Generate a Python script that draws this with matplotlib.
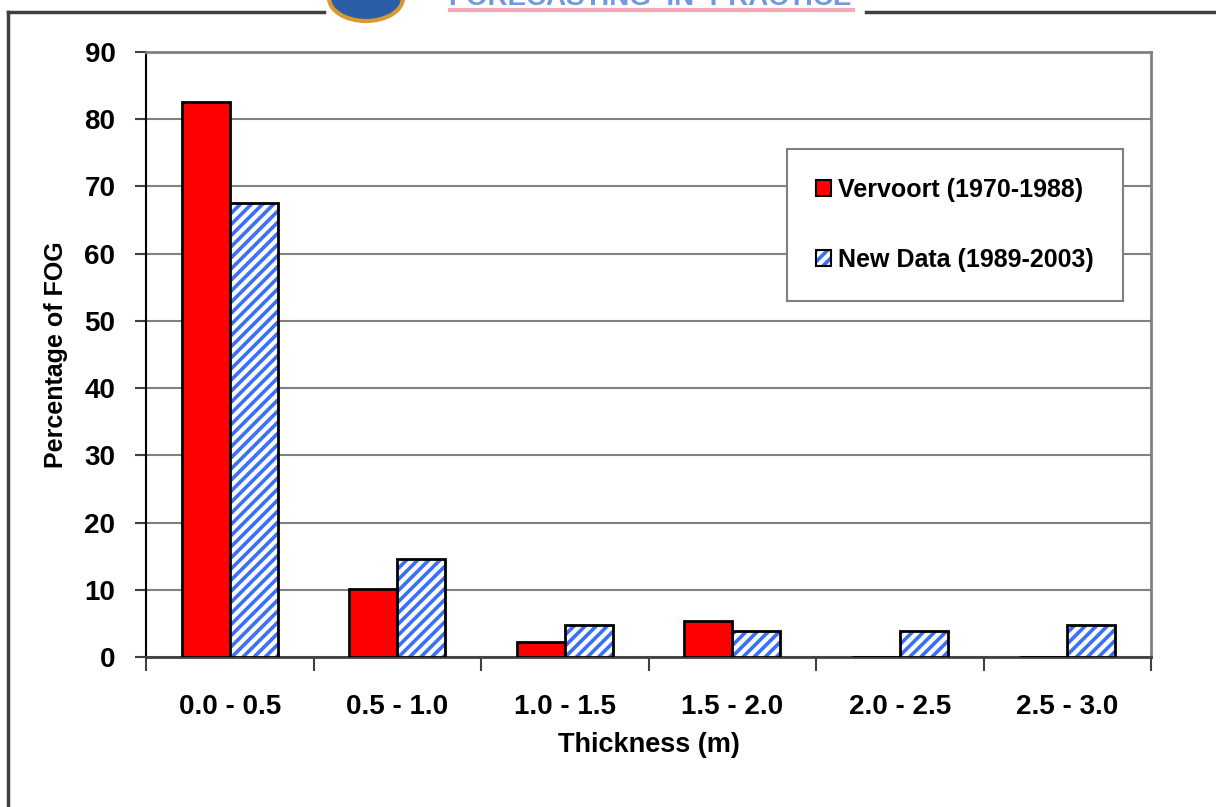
import numpy as np
import matplotlib
matplotlib.use("Agg")
import matplotlib.pyplot as plt
from matplotlib.patches import Patch, Ellipse
from matplotlib.lines import Line2D

# Thickness classes and percentage of FOG for each data set
categories = ["0.0 - 0.5", "0.5 - 1.0", "1.0 - 1.5", "1.5 - 2.0", "2.0 - 2.5", "2.5 - 3.0"]
vervoort = [82.5, 10.1, 2.2, 5.4, 0.0, 0.0]
new_data = [67.6, 14.6, 4.8, 3.9, 3.9, 4.8]
yticks = [0, 10, 20, 30, 40, 50, 60, 70, 80, 90]

plt.rcParams['font.family'] = ['Liberation Sans', 'DejaVu Sans']
plt.rcParams['font.weight'] = 'bold'
plt.rcParams['hatch.linewidth'] = 2.6

fig = plt.figure(figsize=(12.16, 8.07), dpi=100)
ax = fig.add_axes([146 / 1216, 150 / 807, 1005 / 1216, 605 / 807])

x = np.arange(len(categories))
width = 0.287

# red bars
ax.bar(x - width / 2, vervoort, width, color='#ff0000', edgecolor='black',
       linewidth=2, zorder=3)
# hatched bars: blue stripes first, then black outline on top
ax.bar(x + width / 2, new_data, width, color='white', edgecolor='#3a6ff7',
       hatch='///', linewidth=0, zorder=3)
ax.bar(x + width / 2, new_data, width, fill=False, edgecolor='black',
       linewidth=2, zorder=4)

ax.set_xlim(-0.5, len(categories) - 0.5)
ax.set_ylim(0, 90)
ax.set_yticks(yticks)
ax.set_xticks(x)
ax.set_xticklabels(categories)
ax.set_xticks(np.arange(len(categories) + 1) - 0.5, minor=True)
ax.tick_params(axis='x', which='major', length=0, pad=27, labelsize=20)
ax.tick_params(axis='x', which='minor', length=10, width=1.5, color='#404040')
ax.tick_params(axis='y', length=8, width=1.5, color='#404040', pad=14, labelsize=20)

ax.yaxis.grid(True, color='#808080', linewidth=1.5, zorder=0)
ax.set_axisbelow(True)
for side in ['top', 'right']:
    ax.spines[side].set_color('#808080')
    ax.spines[side].set_linewidth(2)
ax.spines['left'].set_color('black')
ax.spines['left'].set_linewidth(1.5)
ax.spines['bottom'].set_color('#404040')
ax.spines['bottom'].set_linewidth(2)

ax.set_xlabel('Thickness (m)', fontsize=19.5, fontweight='bold', labelpad=8)
ax.set_ylabel('Percentage of FOG', fontsize=18, fontweight='bold', labelpad=12)

# legend
h1 = Patch(facecolor='#ff0000', edgecolor='black', linewidth=1.5)
h2a = Patch(facecolor='white', edgecolor='#3a6ff7', hatch='///', linewidth=0)
h2b = Patch(fill=False, edgecolor='black', linewidth=1.5)
leg = ax.legend([h1, (h2a, h2b)], ['Vervoort (1970-1988)', 'New Data (1989-2003)'],
                loc='upper left', bbox_to_anchor=(0.638, 0.840),
                prop={'size': 18, 'weight': 'bold'},
                handlelength=0.6, handleheight=0.6, handletextpad=0.3,
                labelspacing=1.85, borderpad=1.15, borderaxespad=0,
                fancybox=False, framealpha=1, edgecolor='#808080')
leg.get_frame().set_linewidth(1.5)
leg.set_zorder(5)

# page frame with logo header
fig.add_artist(Line2D([8 / 1216, 8 / 1216], [0, 1 - 12 / 807], color='#404040', lw=2.5))
fig.add_artist(Line2D([8 / 1216, 324 / 1216], [1 - 12 / 807] * 2, color='#404040', lw=2.5))
fig.add_artist(Line2D([866 / 1216, 1], [1 - 12 / 807] * 2, color='#404040', lw=2.5))
fig.add_artist(Ellipse((366 / 1216, 1 + 2 / 807), 74 / 1216, 46 / 807,
                       facecolor='#2a5fa8', edgecolor='#d89a30', lw=3))
fig.add_artist(Line2D([450 / 1216, 853 / 1216], [1 - 10 / 807] * 2, color='#f4a8b8', lw=3))
fig.text(650 / 1216, 1 + 2 / 807, 'FORECASTING  IN  PRACTICE', color='#6f9ae0',
         fontsize=20, ha='center', va='center', fontweight='bold')

fig.savefig('out.png', dpi=100)
